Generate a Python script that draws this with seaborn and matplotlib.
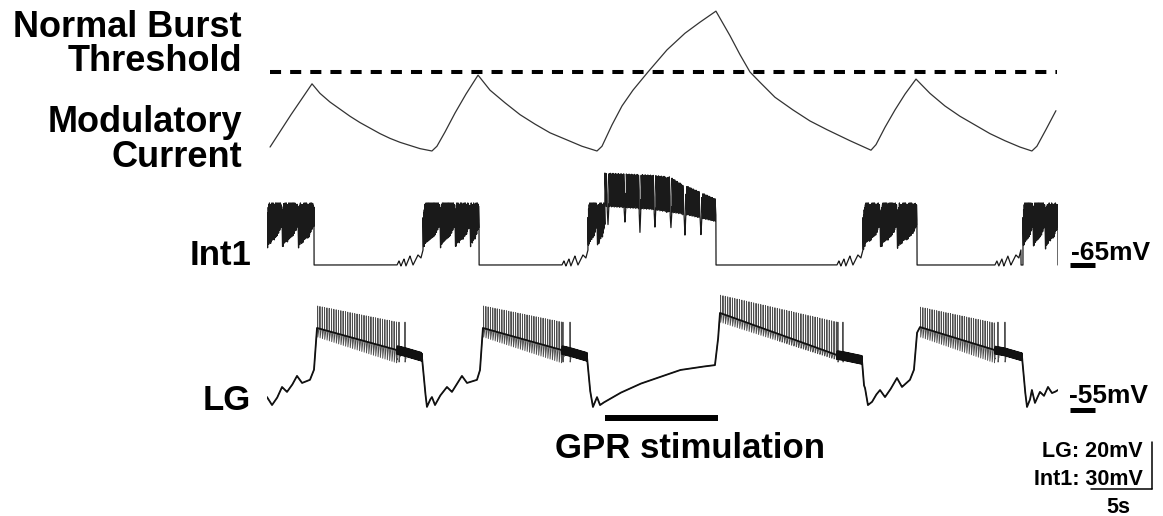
import numpy as np
import matplotlib
matplotlib.use("Agg")
import matplotlib.pyplot as plt
import seaborn as sns

sns.set_theme(style="white")
plt.rcParams['font.family'] = ['Liberation Sans', 'DejaVu Sans']

# ---------------- data (time in s) ----------------
T_END = 64.84

# Modulatory current (a.u., threshold = 1)
mod_t = [0.25, 1.97, 3.69, 4.34, 5.16, 5.98, 6.80, 7.62, 8.44, 9.26, 10.08, 10.90,
         11.72, 12.54, 13.52,
         13.93, 14.59, 15.41, 16.31, 17.30, 18.28, 19.51, 20.74, 21.97, 23.20,
         24.59, 25.82, 27.05, 27.46, 28.28, 29.10, 30.00, 31.23, 32.79, 34.26,
         35.49, 36.80, 37.95, 38.77, 39.59, 40.41, 41.64, 43.11, 44.51, 45.90,
         47.79, 49.51, 49.92, 50.66, 51.48, 52.30, 53.20, 54.34, 55.57, 56.80,
         58.03, 59.26, 60.49, 61.72, 62.70, 63.11, 63.85, 64.67]
mod_v = [0.05, 0.46, 0.85, 0.73, 0.62, 0.53, 0.44, 0.36, 0.29, 0.22, 0.16, 0.11,
         0.07, 0.03, 0.00,
         0.06, 0.24, 0.48, 0.72, 0.96, 0.77, 0.61, 0.46, 0.34, 0.23,
         0.14, 0.06, 0.00, 0.06, 0.33, 0.57, 0.77, 1.00, 1.28, 1.49,
         1.63, 1.77, 1.46, 1.22, 1.00, 0.87, 0.68, 0.52, 0.38, 0.27,
         0.13, 0.01, 0.08, 0.30, 0.52, 0.72, 0.91, 0.73, 0.57, 0.44,
         0.33, 0.22, 0.13, 0.05, 0.00, 0.06, 0.27, 0.51]
threshold = 1.0
threshold_span = [0.25, 64.76]

# Int1 (mV)
INT1_REST = -65.0
INT1_TOP = -25.4
int1_humps = [[0.00, 1.23, 2.54, 3.85],
              [12.79, 14.18, 15.41, 16.64, 17.38],
              [26.31, 27.05, 27.70],
              [48.85, 50.25, 51.64, 53.28],
              [61.97, 62.79, 63.77, 64.84]]
hump_top_u = [0.0, 0.12, 0.9, 1.0]
hump_top_v = [-34.0, -25.4, -25.4, -27.0]
hump_bot_u = [0.0, 0.15, 0.7, 1.0]
hump_bot_v = [-56.0, -52.0, -47.0, -40.0]
int1_wave_on = [10.66, 24.18, 46.72, 59.67]
wave_dt = [0.00, 0.16, 0.32, 0.57, 0.73, 1.06, 1.31, 1.72, 1.96, 2.13]
wave_mv = [-65.0, -62.4, -65.6, -61.2, -65.6, -59.3, -65.0, -58.6, -60.5, -55.4]
gpr_on = 27.70
int1_gpr_off = 36.80
gpr_off = 36.97
gpr_top_t = [27.70, 31.39, 33.03, 33.85, 35.49, 36.56, 36.80]
gpr_top_v = [-6.3, -7.6, -8.8, -12.7, -18.4, -22.2, -23.0]
gpr_bot_t = [27.70, 31.39, 34.26, 36.80]
gpr_bot_v = [-28.0, -29.9, -33.1, -37.6]
gpr_dip_t = [27.95, 29.34, 30.57, 31.80, 33.11, 34.26, 35.57]
gpr_dip_v = [-39.5, -37.6, -44.6, -40.8, -41.4, -45.9, -45.9]

# LG (mV): slow membrane trajectory
lg_t = [0.00, 0.41, 0.82, 1.23, 1.64, 2.05, 2.46, 2.87, 3.52, 3.85,
        4.10, 10.66, 11.31, 12.70, 12.95, 13.11, 13.36, 13.52, 13.77, 14.18,
        14.75, 15.16, 15.57, 15.98, 16.39, 17.21, 17.46, 17.70, 24.18, 24.84,
        26.23, 26.48, 26.72, 27.05, 27.30, 27.54, 28.93, 30.57, 32.21, 33.85,
        35.49, 36.72, 36.97, 37.13, 46.72, 47.21, 48.77, 48.93, 49.02, 49.26,
        49.59, 49.92, 50.25, 50.66, 51.07, 51.64, 52.05, 52.70, 53.03, 53.28,
        53.52, 59.67, 60.49, 61.89, 62.13, 62.30, 62.54, 62.70, 62.95, 63.36,
        63.69, 64.02, 64.34, 64.59, 64.84]
lg_v = [-49.5, -52.9, -49.9, -45.2, -47.3, -44.4, -40.5, -43.5, -42.2, -38.0,
        -20.1, -29.5, -30.3, -32.4, -46.5, -53.7, -50.7, -49.5, -52.9, -49.0,
        -45.2, -47.3, -43.9, -40.5, -43.5, -42.2, -38.0, -20.1, -29.5, -30.3,
        -32.4, -46.5, -53.7, -49.5, -52.9, -52.0, -47.8, -43.9, -41.0, -38.0,
        -36.7, -35.9, -25.2, -13.7, -31.6, -32.0, -33.7, -44.4, -45.6, -52.9,
        -51.6, -48.6, -46.5, -49.5, -46.5, -41.4, -45.2, -42.2, -38.0, -22.2,
        -19.7, -29.5, -30.3, -32.4, -46.5, -53.7, -50.7, -46.5, -52.0, -47.3,
        -49.0, -45.2, -47.8, -47.3, -46.5]
lg_burst_on = [4.10, 17.70, 37.13, 53.52]
lg_burst_off = [10.66, 24.18, 46.72, 59.67]
lg_nspk = [35, 35, 50, 33]
lg_top_start = [-10.7, -10.7, -6.1, -11.2]
lg_top_end = [-17.6, -17.6, -17.6, -18.0]
lg_trough_start = [-23.9, -23.9, -17.6, -23.9]
lg_trough_end = [-35.0, -35.0, -33.7, -35.0]
lg_late_spk_t = [10.82, 11.31, 24.26, 24.84, 46.80, 47.21, 59.92, 60.49]
LG_LATE_TOP = -17.6
LG_LATE_TROUGH = -34.6
lg_band_on = [10.66, 24.18, 46.72, 59.67]
lg_band_off = [12.70, 26.23, 48.77, 61.89]
LG_BAND_AMP = 1.7

# ---------------- trace construction ----------------
DT = 0.004
t = np.arange(0, T_END + DT / 2, DT)

# Int1
i1 = np.full_like(t, INT1_REST)
for on in int1_wave_on:
    m = (t >= on) & (t <= on + wave_dt[-1])
    i1[m] = np.interp(t[m] - on, wave_dt, wave_mv)
INT1_PERIOD = 0.05
for edges in int1_humps:
    for a, b in zip(edges[:-1], edges[1:]):
        m = (t >= a) & (t < b)
        u = (t[m] - a) / (b - a)
        top = np.interp(u, hump_top_u, hump_top_v)
        bot = np.interp(u, hump_bot_u, hump_bot_v)
        ph = ((t[m] - a) / INT1_PERIOD) % 1.0
        i1[m] = top - (top - bot) * ph
m = (t >= gpr_on) & (t < int1_gpr_off)
tm = t[m]
top = np.interp(tm, gpr_top_t, gpr_top_v)
bot = np.interp(tm, gpr_bot_t, gpr_bot_v)
ph = ((tm - gpr_on) / 0.11) % 1.0
v = top - (top - bot) * ph
for td, vd in zip(gpr_dip_t, gpr_dip_v):
    w = np.abs(tm - td) < 0.07
    v[w] = np.minimum(v[w], vd + (bot[w] - vd) * np.abs(tm[w] - td) / 0.07)
i1[m] = v

# LG
lg_line = np.interp(t, lg_t, lg_v)
for a, b in zip(lg_band_on, lg_band_off):
    m = (t >= a) & (t < b)
    ph = ((t[m] - a) / 0.08) % 1.0
    lg_line[m] += LG_BAND_AMP * (1 - 2 * np.abs(2 * ph - 1))
lg_spk = lg_line.copy()


def add_spike(tk, top_v, tr_v):
    i = int(np.searchsorted(t, tk))
    n = 25
    lg_spk[i] = top_v
    lg_spk[i + 1:i + 3] = tr_v
    seg = slice(i + 3, min(i + 3 + n, len(t)))
    k = seg.stop - seg.start
    lg_spk[seg] = tr_v + (lg_line[seg] - tr_v) * np.linspace(0, 1, n)[:k]


for s, e, n, ta, tb, ua, ub in zip(lg_burst_on, lg_burst_off, lg_nspk, lg_top_start,
                                   lg_top_end, lg_trough_start, lg_trough_end):
    for tk in np.linspace(s + 0.05, e - 0.05, n):
        f = (tk - s) / (e - s)
        add_spike(tk, ta + (tb - ta) * f, ua + (ub - ua) * f)
for tk in lg_late_spk_t:
    add_spike(tk, LG_LATE_TOP, LG_LATE_TROUGH)

# ---------------- figure ----------------
W, H = 1163, 516
fig = plt.figure(figsize=(W / 100, H / 100), dpi=100)
fig.patch.set_facecolor("white")

ax_o = fig.add_axes([0, 0, 1, 1])
ax_o.set_xlim(0, W)
ax_o.set_ylim(H, 0)
ax_o.set_axis_off()


def trace_axes(px_top, px_bot, ylim):
    ax = fig.add_axes([267 / W, 1 - px_bot / H, (1058 - 267) / W, (px_bot - px_top) / H])
    ax.set_xlim(0, T_END)
    ax.set_ylim(*ylim)
    ax.set_axis_off()
    return ax


ax_m = trace_axes(0, 160, (-0.114, 1.911))
ax_i = trace_axes(160, 285, (-77.76, 2.01))
ax_l = trace_axes(285, 430, (-63.51, -1.81))

# modulatory current
sns.lineplot(x=mod_t, y=mod_v, ax=ax_m, estimator=None, sort=False,
             color="#333333", linewidth=0.9)
ax_m.plot(threshold_span, [threshold, threshold], color="black", linewidth=2.9,
          linestyle=(0, (2.75, 2.25)), solid_capstyle="butt", dash_capstyle="butt")

# Int1
sns.lineplot(x=t, y=i1, ax=ax_i, estimator=None, sort=False, color="#1a1a1a", linewidth=0.9)
ax_i.plot([65.82, 67.87], [INT1_REST, INT1_REST], color="black", linewidth=3.6,
          solid_capstyle="butt", clip_on=False)

# LG
sns.lineplot(x=t, y=lg_spk, ax=ax_l, estimator=None, sort=False, color="#4d4d4d", linewidth=0.65)
sns.lineplot(x=t, y=lg_line, ax=ax_l, estimator=None, sort=False, color="#111111", linewidth=1.3)
ax_l.plot([65.82, 67.87], [-55.2, -55.2], color="black", linewidth=3.6,
          solid_capstyle="butt", clip_on=False)
# GPR stimulation bar
ax_l.plot([gpr_on, gpr_off], [-58.4, -58.4], color="black", linewidth=4.3,
          solid_capstyle="butt", clip_on=False)
# scale bars: 5 s and 20 mV (LG)
ax_l.plot([67.54, 72.54], [-88.6, -88.6], color="black", linewidth=1.1, clip_on=False)
ax_l.plot([72.54, 72.54], [-88.6, -68.6], color="black", linewidth=1.1, clip_on=False)

# text
big = dict(fontsize=25, fontweight="bold", color="black", va="baseline")
top_lbl = dict(big, fontsize=26)
ax_o.text(242, 37, "Normal Burst", ha="right", **top_lbl)
ax_o.text(242, 71, "Threshold", ha="right", **top_lbl)
ax_o.text(242, 132, "Modulatory", ha="right", **top_lbl)
ax_o.text(242, 167, "Current", ha="right", **top_lbl)
ax_o.text(251, 265, "Int1", ha="right", **big)
ax_o.text(251, 410, "LG", ha="right", **big)
ax_o.text(690, 458, "GPR stimulation", ha="center", **big)

mid = dict(fontsize=19, fontweight="bold", color="black", va="baseline")
ax_o.text(1071, 260, "-65mV", ha="left", **mid)
ax_o.text(1069, 403, "-55mV", ha="left", **mid)

small = dict(fontsize=15.5, fontweight="bold", color="black", va="baseline")
ax_o.text(1143, 457, "LG: 20mV", ha="right", **small)
ax_o.text(1143, 485, "Int1: 30mV", ha="right", **small)
ax_o.text(1118, 513, "5s", ha="center", **small)

fig.savefig("out.png", dpi=100, facecolor="white")
